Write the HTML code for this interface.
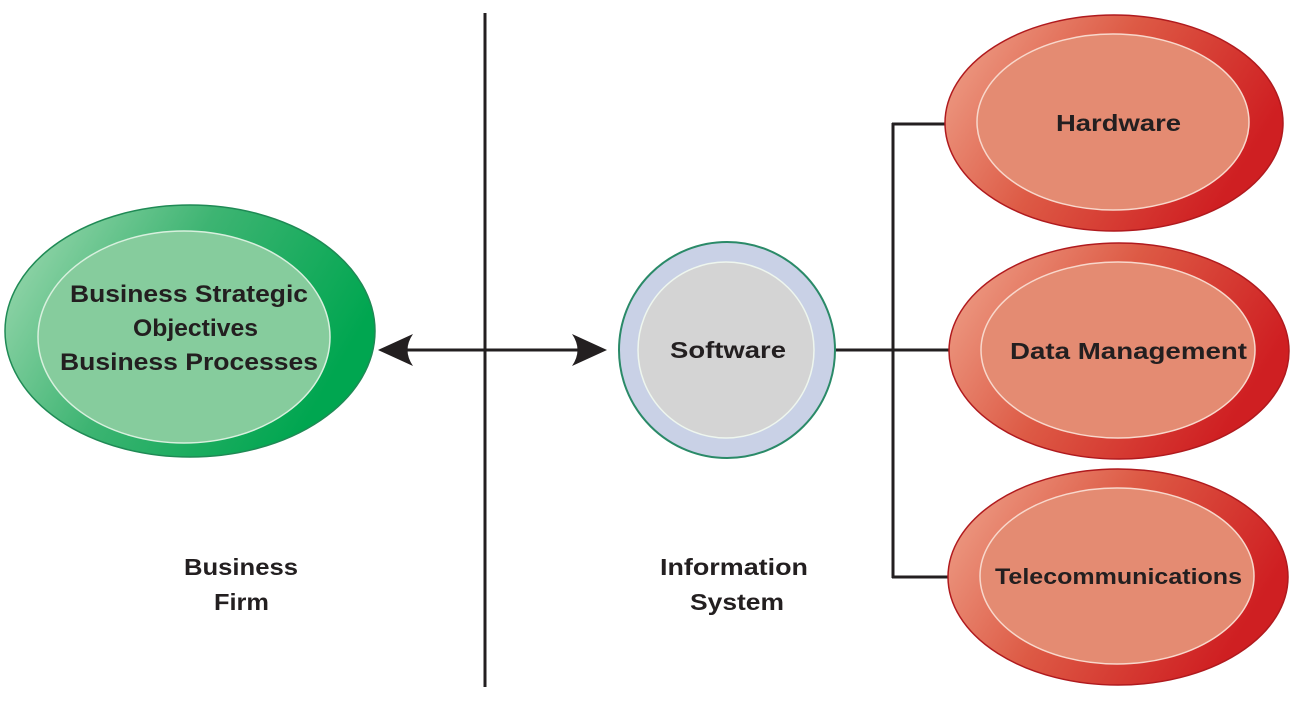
<!DOCTYPE html>
<html><head><meta charset="utf-8"><style>
html,body{margin:0;padding:0;background:#fff;}
svg{display:block;}
text{font-family:"Liberation Sans",Arial,sans-serif;font-weight:bold;fill:#231f20;}
</style></head><body>
<svg width="1295" height="715" viewBox="0 0 1295 715" xmlns="http://www.w3.org/2000/svg">
<defs>
<linearGradient id="g" x1="0" y1="0" x2="1" y2="0.4">
<stop offset="0" stop-color="#a6dcb6"/><stop offset="0.5" stop-color="#3db472"/><stop offset="1" stop-color="#00a650"/>
</linearGradient>
<linearGradient id="r" x1="0" y1="0" x2="1" y2="0.4">
<stop offset="0" stop-color="#f0a890"/><stop offset="0.5" stop-color="#dd5a45"/><stop offset="1" stop-color="#cf1f22"/>
</linearGradient>
</defs>
<line x1="485" y1="13" x2="485" y2="687" stroke="#231f20" stroke-width="3"/>
<line x1="400" y1="350" x2="590" y2="350" stroke="#231f20" stroke-width="3"/>
<path d="M378 350 L413 334 Q402 350 413 366 Z" fill="#231f20"/>
<path d="M607 350 L572 334 Q583 350 572 366 Z" fill="#231f20"/>
<line x1="835" y1="350" x2="952" y2="350" stroke="#231f20" stroke-width="3"/>
<line x1="893" y1="123" x2="893" y2="578" stroke="#231f20" stroke-width="3"/>
<line x1="892" y1="124" x2="950" y2="124" stroke="#231f20" stroke-width="3"/>
<line x1="892" y1="577" x2="950" y2="577" stroke="#231f20" stroke-width="3"/>
<ellipse cx="190" cy="331" rx="185" ry="126" fill="url(#g)" stroke="#1f8a55" stroke-width="1.5"/>
<ellipse cx="184" cy="337" rx="146" ry="106" fill="#86cc9d" stroke="#d8f0de" stroke-width="1.5"/>
<text x="70" y="302" font-size="24" textLength="238" lengthAdjust="spacingAndGlyphs">Business Strategic</text>
<text x="133" y="336" font-size="24" textLength="125" lengthAdjust="spacingAndGlyphs">Objectives</text>
<text x="60" y="370" font-size="24" textLength="258" lengthAdjust="spacingAndGlyphs">Business Processes</text>
<circle cx="727" cy="350" r="108" fill="#c9d1e6" stroke="#2a8a68" stroke-width="2"/>
<circle cx="726" cy="350" r="88" fill="#d4d4d4" stroke="#eef6ee" stroke-width="1.5"/>
<text x="670" y="358" font-size="23" textLength="116" lengthAdjust="spacingAndGlyphs">Software</text>
<ellipse cx="1114" cy="123" rx="169" ry="108" fill="url(#r)" stroke="#b01a1e" stroke-width="1.5"/>
<ellipse cx="1113" cy="122" rx="136" ry="88" fill="#e48b72" stroke="#f8d8cc" stroke-width="1.5"/>
<text x="1056" y="131" font-size="23" textLength="125" lengthAdjust="spacingAndGlyphs">Hardware</text>
<ellipse cx="1119" cy="351" rx="170" ry="108" fill="url(#r)" stroke="#b01a1e" stroke-width="1.5"/>
<ellipse cx="1118" cy="350" rx="137" ry="88" fill="#e48b72" stroke="#f8d8cc" stroke-width="1.5"/>
<text x="1010" y="359" font-size="23" textLength="237" lengthAdjust="spacingAndGlyphs">Data Management</text>
<ellipse cx="1118" cy="577" rx="170" ry="108" fill="url(#r)" stroke="#b01a1e" stroke-width="1.5"/>
<ellipse cx="1117" cy="576" rx="137" ry="88" fill="#e48b72" stroke="#f8d8cc" stroke-width="1.5"/>
<text x="995" y="584" font-size="22" textLength="247" lengthAdjust="spacingAndGlyphs">Telecommunications</text>
<text x="184" y="575" font-size="23" textLength="114" lengthAdjust="spacingAndGlyphs">Business</text>
<text x="214" y="610" font-size="23" textLength="55" lengthAdjust="spacingAndGlyphs">Firm</text>
<text x="660" y="575" font-size="23" textLength="148" lengthAdjust="spacingAndGlyphs">Information</text>
<text x="690" y="610" font-size="23" textLength="94" lengthAdjust="spacingAndGlyphs">System</text>
</svg>
</body></html>
